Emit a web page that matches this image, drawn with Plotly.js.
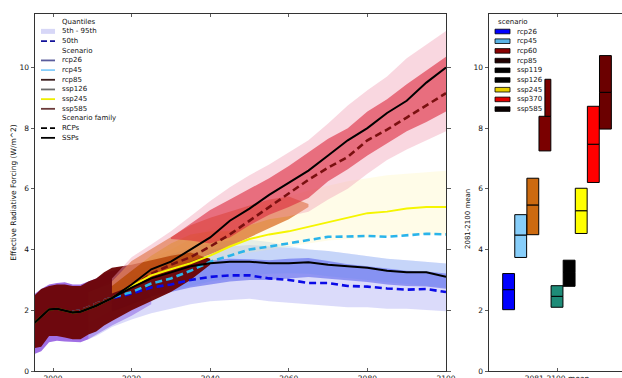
<!DOCTYPE html>
<html><head><meta charset="utf-8">
<script src="https://cdn.plot.ly/plotly-3.0.1.min.js"></script>
<style>html,body{margin:0;padding:0;background:#fff;}#chart{width:622px;height:378px;}</style>
</head><body><div id="chart"></div>
<script>
// ---------- DATA ----------
const N = null;
const years = [1995,1997,1999,2001,2003,2005,2007,2009,2011,2013,2015,2020,2025,2030,2035,2040,2045,2050,2055,2060,2065,2070,2075,2080,2085,2090,2095,2100];

// medians (50th)
const ssp585_med = [1.55,1.8,2.03,2.05,2.0,1.93,1.95,2.05,2.15,2.28,2.4,2.85,3.35,3.6,4.0,4.4,4.95,5.35,5.8,6.2,6.6,7.1,7.6,8.0,8.5,8.9,9.5,10.0];
const ssp245_med = [1.55,1.8,2.03,2.05,2.0,1.93,1.95,2.05,2.15,2.28,2.4,2.8,3.15,3.35,3.55,3.8,4.1,4.35,4.5,4.6,4.75,4.9,5.05,5.2,5.25,5.35,5.4,5.4];
const ssp126_med = [1.55,1.8,2.03,2.05,2.0,1.93,1.95,2.05,2.15,2.28,2.4,2.75,3.05,3.25,3.45,3.55,3.6,3.6,3.55,3.55,3.58,3.5,3.45,3.4,3.3,3.25,3.25,3.1];
const rcp26_med = [N,N,N,N,N,1.95,1.98,2.08,2.2,2.3,2.4,2.55,2.75,2.85,3.0,3.1,3.15,3.15,3.05,3.0,2.9,2.9,2.8,2.78,2.72,2.68,2.7,2.6];
const rcp45_med = [N,N,N,N,N,1.95,2.0,2.1,2.22,2.33,2.42,2.6,2.88,3.05,3.3,3.6,3.8,4.0,4.1,4.2,4.3,4.42,4.43,4.45,4.42,4.48,4.52,4.5];
const rcp85_med = [N,N,N,N,N,1.95,2.0,2.1,2.22,2.33,2.42,2.75,3.2,3.5,3.75,4.1,4.5,4.95,5.4,5.85,6.3,6.7,7.05,7.6,7.95,8.35,8.75,9.15];

// 5th - 95th bands
const hist_lo    = [0.55,0.65,0.95,1.0,0.97,0.95,0.95,1.05,1.2,1.35,1.5,1.82,2.2,N,N,N,N,N,N,N,N,N,N,N,N,N,N,N];
const hist_hi    = [2.5,2.7,2.85,2.9,2.92,2.85,2.85,2.95,3.05,3.2,3.3,3.4,2.4,N,N,N,N,N,N,N,N,N,N,N,N,N,N,N];
const histc_lo   = [0.75,0.8,1.15,1.15,1.1,1.05,1.05,1.2,1.3,1.5,1.65,2.0,2.3,2.6,3.0,3.5,N,N,N,N,N,N,N,N,N,N,N,N];
const histc_hi   = [2.45,2.7,2.8,2.85,2.85,2.8,2.8,2.95,3.05,3.25,3.4,3.5,3.65,3.8,3.9,3.7,N,N,N,N,N,N,N,N,N,N,N,N];
const rcp26_lo   = [N,N,N,N,N,N,N,1.05,1.15,1.3,1.45,1.7,1.9,2.05,2.2,2.3,2.35,2.38,2.3,2.25,2.2,2.15,2.1,2.1,2.05,2.05,2.0,1.97];
const rcp26_hi   = [N,N,N,N,N,N,N,2.6,2.7,2.8,2.9,3.2,3.5,3.7,3.9,4.0,4.1,4.15,4.1,4.05,4.0,3.95,3.87,3.78,3.7,3.65,3.6,3.54];
const rcp45_lo   = [N,N,N,N,N,N,N,1.6,1.7,1.85,2.0,2.25,2.5,2.65,2.8,2.95,3.05,3.15,3.2,3.22,3.2,3.12,3.05,3.0,2.92,2.85,2.8,2.75];
const rcp45_hi   = [N,N,N,N,N,N,N,2.6,2.7,2.85,3.0,3.3,3.6,3.85,4.05,4.2,4.3,4.32,4.25,4.12,4.0,3.95,3.87,3.78,3.7,3.65,3.6,3.54];
const ssp126_lo  = [N,N,N,N,N,N,N,N,N,N,1.95,2.2,2.45,2.6,2.75,2.85,2.95,3.0,3.0,3.05,3.1,3.05,2.98,2.93,2.85,2.8,2.78,2.71];
const ssp126_hi  = [N,N,N,N,N,N,N,N,N,N,2.8,3.1,3.35,3.5,3.6,3.65,3.7,3.68,3.65,3.7,3.72,3.62,3.52,3.45,3.38,3.3,3.28,3.21];
const ssp245_lo  = [N,N,N,N,N,N,N,N,N,N,2.3,2.6,2.9,3.1,3.35,3.55,3.75,3.9,4.0,4.1,4.2,4.3,4.35,4.4,4.45,4.5,4.5,4.5];
const ssp245_hi  = [N,N,N,N,N,N,N,N,N,N,2.8,3.3,3.7,4.0,4.35,4.7,5.0,5.3,5.55,5.75,5.95,6.1,6.25,6.35,6.45,6.5,6.55,6.6];
const mid_lo     = [N,N,N,N,N,N,N,N,N,N,2.55,2.8,3.1,3.35,3.6,3.85,4.1,4.4,4.7,5.0,5.4,N,N,N,N,N,N,N];
const mid_hi     = [N,N,N,N,N,N,N,N,N,N,2.95,3.62,4.02,4.42,4.8,5.05,5.25,5.45,5.65,5.75,5.5,N,N,N,N,N,N,N];
const rcp85_lo   = [N,N,N,N,N,N,N,N,N,N,2.8,3.3,3.8,4.2,4.5,4.6,4.6,4.8,5.0,5.1,5.25,5.65,6.0,6.5,6.95,7.3,7.6,7.9];
const rcp85_hi   = [N,N,N,N,N,N,N,N,N,N,3.05,3.75,4.17,4.6,5.1,5.6,6.05,6.45,6.8,7.2,7.6,8.15,8.75,9.25,9.7,10.3,10.75,11.2];
const ssp585_lo  = [N,N,N,N,N,N,N,N,N,N,N,N,N,4.35,4.3,4.2,4.4,4.8,5.15,5.4,5.7,6.25,6.65,7.1,7.5,7.9,8.2,8.55];
const ssp585_hi  = [N,N,N,N,N,N,N,N,N,N,N,N,N,4.4,4.85,5.3,5.65,6.0,6.35,6.75,7.2,7.65,8.0,8.55,8.95,9.45,9.9,10.35];

// 2081-2100 mean boxes
const scenarios2 = ['rcp26','rcp45','rcp60','rcp85','ssp119','ssp126','ssp245','ssp370','ssp585'];
const mean_lo  = [2.02,3.74,4.49,7.25,2.10,2.79,4.53,6.21,7.97];
const mean_med = [2.68,4.48,5.47,8.39,2.46,3.25,5.28,7.47,9.18];
const mean_hi  = [3.21,5.15,6.35,9.61,2.81,3.65,6.02,8.72,10.39];

const xTicks = [2000,2020,2040,2060,2080,2100];
const yTicks = [0,2,4,6,8,10];

// ---------- STYLE ----------
const FONT = 'DejaVu Sans, Liberation Sans, sans-serif';
const bandStyle = [
  [hist_lo, hist_hi, 'rgba(150,95,225,0.90)'],
  [rcp26_lo, rcp26_hi, 'rgba(190,190,245,0.55)'],
  [rcp45_lo, rcp45_hi, 'rgba(150,200,250,0.30)'],
  [ssp126_lo, ssp126_hi, 'rgba(70,80,235,0.50)'],
  [ssp245_lo, ssp245_hi, 'rgba(255,242,150,0.22)'],
  [histc_lo, histc_hi, 'rgba(108,2,2,0.95)'],
  [mid_lo, mid_hi, 'rgba(218,105,25,0.72)'],
  [rcp85_lo, rcp85_hi, 'rgba(240,160,180,0.42)'],
  [ssp585_lo, ssp585_hi, 'rgba(220,40,60,0.60)']
];
const lineStyle = [
  [rcp26_med, '#0a0ae6', 2.6, '7px,4px'],
  [rcp45_med, '#2ab4ea', 2.6, '7px,4px'],
  [rcp85_med, '#7a1010', 2.6, '7px,4px'],
  [ssp245_med, '#f5f500', 2.0, 'solid'],
  [ssp126_med, '#000000', 2.0, 'solid'],
  [ssp585_med, '#000000', 2.0, 'solid']
];
const barColors = ['#0000ff','#87cefa','#cc6a10','#7a0000','#1e8c78','#000000','#ffff00','#ff0000','#6b0000'];

const traces = [];
bandStyle.forEach(([lo, hi, col]) => {
  const xs = [], up = [], dn = [];
  years.forEach((yr, i) => { if (lo[i] !== null && hi[i] !== null) { xs.push(yr); up.push(hi[i]); dn.push(lo[i]); } });
  traces.push({x: xs.concat(xs.slice().reverse()), y: up.concat(dn.slice().reverse()),
    type: 'scatter', mode: 'lines', fill: 'toself', fillcolor: col, line: {width: 0},
    hoverinfo: 'skip', showlegend: false, xaxis: 'x', yaxis: 'y'});
});
lineStyle.forEach(([vals, col, w, dash]) => {
  traces.push({x: years, y: vals, type: 'scatter', mode: 'lines', connectgaps: false,
    line: {color: col, width: w, dash: dash}, showlegend: false, xaxis: 'x', yaxis: 'y'});
});
// right panel boxes: lower half and upper half
const pos = scenarios2.map((s, i) => i - 4);
const upW = scenarios2.map(s => s === 'rcp85' ? 0.49 : 0.98);
const upOff = scenarios2.map(s => s === 'rcp85' ? 0.0 : -0.49);
traces.push({type: 'bar', x: pos, base: mean_lo, y: mean_med.map((m, i) => m - mean_lo[i]),
  width: 0.98, offset: -0.49, marker: {color: barColors, line: {color: '#000', width: 1}},
  showlegend: false, xaxis: 'x2', yaxis: 'y2', hoverinfo: 'skip'});
traces.push({type: 'bar', x: pos, base: mean_med, y: mean_hi.map((h, i) => h - mean_med[i]),
  width: upW, offset: upOff, marker: {color: barColors, line: {color: '#000', width: 1}},
  showlegend: false, xaxis: 'x2', yaxis: 'y2', hoverinfo: 'skip'});

// ---------- LEGENDS (drawn as text + symbols) ----------
const PL = 35, PT = 14, PW = 587, PH = 357;
const px = v => (v - PL) / PW, py = v => (PT + PH - v) / PH;
const annotations = [], shapes = [];
const leftLegend = [
  ['Quantiles', null], ['5th - 95th', ['patch', 'rgba(205,205,245,0.8)']], ['50th', ['line', '#12129a', '6px,3px']],
  ['Scenario', null], ['rcp26', ['line', '#5a5c9c', 'solid']], ['rcp45', ['line', '#87cefa', 'solid']],
  ['rcp85', ['line', '#3a1c1c', 'solid']], ['ssp126', ['line', '#6c6c6c', 'solid']], ['ssp245', ['line', '#eeee00', 'solid']],
  ['ssp585', ['line', '#6b3a3a', 'solid']], ['Scenario family', null], ['RCPs', ['line', '#000', '6px,3px']], ['SSPs', ['line', '#000', 'solid']]
];
leftLegend.forEach(([label, sym], i) => {
  const yy = 21.7 + i * 9.68;
  annotations.push({xref: 'paper', yref: 'paper', x: px(60), y: py(yy), text: label, showarrow: false,
    xanchor: 'left', yanchor: 'middle', font: {family: FONT, size: 7, color: '#111'}});
  if (!sym) return;
  if (sym[0] === 'patch') shapes.push({type: 'rect', xref: 'paper', yref: 'paper', x0: px(41), x1: px(55), y0: py(yy - 2.5), y1: py(yy + 2.5), fillcolor: sym[1], line: {width: 0}});
  else shapes.push({type: 'line', xref: 'paper', yref: 'paper', x0: px(41), x1: px(55), y0: py(yy), y1: py(yy), line: {color: sym[1], width: 1.8, dash: sym[2]}});
});
const legendPatch = ['#0000ff','#5ab4e6','#8b0000','#200000','#000000','#000000','#e8d000','#e00000','#0a0000'];
annotations.push({xref: 'paper', yref: 'paper', x: px(513), y: py(21.7), text: 'scenario', showarrow: false,
  xanchor: 'center', yanchor: 'middle', font: {family: FONT, size: 7, color: '#111'}});
scenarios2.forEach((s, i) => {
  const yy = 31.5 + i * 9.7;
  annotations.push({xref: 'paper', yref: 'paper', x: px(515), y: py(yy), text: s, showarrow: false,
    xanchor: 'left', yanchor: 'middle', font: {family: FONT, size: 7, color: '#111'}});
  shapes.push({type: 'rect', xref: 'paper', yref: 'paper', x0: px(495), x1: px(510), y0: py(yy - 2.3), y1: py(yy + 2.3),
    fillcolor: legendPatch[i], line: {color: '#000', width: 0.8}});
});
annotations.push({xref: 'paper', yref: 'paper', x: px(468), y: py(219), text: '2081-2100 mean', textangle: -90,
  showarrow: false, xanchor: 'center', yanchor: 'middle', font: {family: FONT, size: 7, color: '#111'}});

const axisBase = {showgrid: false, zeroline: false, showline: true, linecolor: '#333', linewidth: 1,
  ticks: 'outside', ticklen: 3.5, tickwidth: 0.8, tickcolor: '#333', mirror: 'ticks',
  tickfont: {family: FONT, size: 7.5, color: '#111'}};

const layout = {
  width: 622, height: 378, margin: {l: PL, r: 0, t: PT, b: 7},
  paper_bgcolor: '#fff', plot_bgcolor: '#fff', showlegend: false, barmode: 'overlay',
  xaxis: Object.assign({}, axisBase, {domain: [0, 411 / PW], range: [1995.42, 2100], tickvals: xTicks, ticktext: xTicks.map(String), ticks: 'inside', ticklen: 3}),
  yaxis: Object.assign({}, axisBase, {range: [0, 11.76], tickvals: yTicks, ticktext: yTicks.map(String),
    title: {text: 'Effective Radiative Forcing (W/m^2)', font: {family: FONT, size: 7.5, color: '#111'}, standoff: 1}}),
  xaxis2: Object.assign({}, axisBase, {domain: [454 / PW, 1], range: [-5.62, 5.37], anchor: 'y2', tickvals: [0], ticktext: ['2081-2100 mean'], ticks: 'inside', ticklen: 3}),
  yaxis2: Object.assign({}, axisBase, {range: [0, 11.76], anchor: 'x2', tickvals: yTicks, ticktext: yTicks.map(String)}),
  annotations: annotations, shapes: shapes
};
Plotly.newPlot('chart', traces, layout, {displayModeBar: false, staticPlot: true});
</script></body></html>
